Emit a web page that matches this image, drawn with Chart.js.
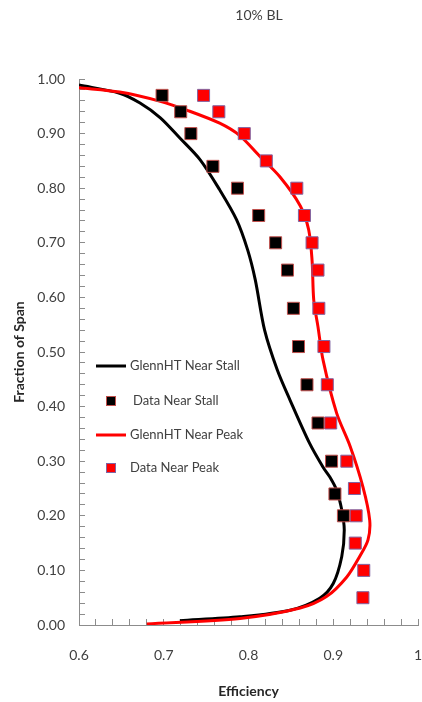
<!DOCTYPE html>
<html>
<head>
<meta charset="utf-8">
<script src="https://cdn.jsdelivr.net/npm/chart.js@4/dist/chart.umd.min.js"></script>
<style>
html,body{margin:0;padding:0;background:#fff;}
canvas{display:block;}
</style>
</head>
<body>
<canvas id="c" width="422" height="702"></canvas>
<script>
// ---- data ----
const chartTitle = "10% BL";
const xTitle = "Efficiency";
const yTitle = "Fraction of Span";
const seriesNames = ["GlennHT Near Stall", "Data Near Stall", "GlennHT Near Peak", "Data Near Peak"];

const glennStallEff  = [0.600,0.648,0.672,0.696,0.719,0.743,0.766,0.786,0.799,0.808,0.819,0.834,0.849,0.872,0.888,0.896,0.904,0.910,0.913,0.910,0.900,0.884,0.849,0.790,0.719];
const glennStallSpan = [0.989,0.974,0.956,0.929,0.892,0.852,0.797,0.742,0.687,0.632,0.540,0.467,0.412,0.333,0.289,0.271,0.247,0.211,0.174,0.125,0.076,0.049,0.027,0.015,0.008];

const dataStallEff  = [0.698,0.720,0.732,0.758,0.787,0.812,0.832,0.846,0.853,0.859,0.869,0.882,0.898,0.902,0.912];
const dataStallSpan = [0.97,0.94,0.90,0.84,0.80,0.75,0.70,0.65,0.58,0.51,0.44,0.37,0.30,0.24,0.20];

const glennPeakEff  = [0.600,0.648,0.696,0.727,0.766,0.790,0.813,0.837,0.861,0.871,0.875,0.877,0.882,0.888,0.904,0.920,0.935,0.943,0.941,0.931,0.916,0.892,0.861,0.790,0.680];
const glennPeakSpan = [0.984,0.976,0.959,0.943,0.919,0.896,0.859,0.821,0.768,0.724,0.668,0.595,0.546,0.485,0.388,0.327,0.253,0.192,0.156,0.125,0.088,0.052,0.031,0.012,0.002];

const dataPeakEff  = [0.747,0.765,0.795,0.821,0.857,0.866,0.875,0.882,0.883,0.889,0.893,0.897,0.916,0.925,0.927,0.926,0.936,0.935];
const dataPeakSpan = [0.97,0.94,0.90,0.85,0.80,0.75,0.70,0.65,0.58,0.51,0.44,0.37,0.30,0.25,0.20,0.15,0.10,0.05];

const xMin = 0.6, xMax = 1.0, yMin = 0, yMax = 1.0, minorStep = 0.02;

function pts(xs, ys){ return xs.map((x,i)=>({x:x, y:ys[i]})); }

Chart.defaults.font.family = "Lato, 'Open Sans', sans-serif";

const legendPlugin = {
  id: 'customLegend',
  afterDatasetsDraw(chart){
    const ctx = chart.ctx;
    const rows = [366, 401, 435, 468];
    ctx.save();
    ctx.font = "13px Lato, 'Open Sans', sans-serif";
    ctx.textBaseline = 'middle';
    ctx.textAlign = 'left';
    chart.data.datasets.forEach((ds, i) => {
      const y = rows[i];
      if (ds.showLine) {
        ctx.strokeStyle = ds.borderColor;
        ctx.lineWidth = 3;
        ctx.beginPath(); ctx.moveTo(96, y); ctx.lineTo(126, y); ctx.stroke();
        ctx.fillStyle = '#404040';
        ctx.fillText(ds.label, 130, y);
      } else {
        ctx.fillStyle = ds.pointBackgroundColor;
        ctx.fillRect(106, y-5, 10, 10);
        ctx.strokeStyle = ds.pointBorderColor;
        ctx.lineWidth = 1;
        ctx.strokeRect(106.5, y-4.5, 9, 9);
        ctx.fillStyle = '#404040';
        ctx.fillText(ds.label, i === 1 ? 133 : 130, y);
      }
    });
    ctx.restore();
  }
};

const titlePlugin = {
  id: 'topTitle',
  afterDraw(chart){
    const ctx = chart.ctx;
    ctx.save();
    ctx.font = "14px Lato, 'Open Sans', sans-serif";
    ctx.fillStyle = '#404040';
    ctx.textAlign = 'center';
    ctx.textBaseline = 'middle';
    ctx.fillText(chartTitle, 259, 15);
    ctx.restore();
  }
};

new Chart(document.getElementById('c'), {
  type: 'scatter',
  data: {
    datasets: [
      { label: seriesNames[0], data: pts(glennStallEff, glennStallSpan), showLine: true, borderColor: '#000000', backgroundColor: '#000000', borderWidth: 3, pointRadius: 0, tension: 0.3, order: 2 },
      { label: seriesNames[1], data: pts(dataStallEff, dataStallSpan), showLine: false, pointStyle: 'rect', pointRadius: 8.5, pointHoverRadius: 8.5, pointBackgroundColor: '#000000', pointBorderColor: '#c0504d', pointBorderWidth: 1, order: 0 },
      { label: seriesNames[2], data: pts(glennPeakEff, glennPeakSpan), showLine: true, borderColor: '#ff0000', backgroundColor: '#ff0000', borderWidth: 3, pointRadius: 0, tension: 0.3, order: 1 },
      { label: seriesNames[3], data: pts(dataPeakEff, dataPeakSpan), showLine: false, pointStyle: 'rect', pointRadius: 8.5, pointHoverRadius: 8.5, pointBackgroundColor: '#ff0000', pointBorderColor: '#8064a2', pointBorderWidth: 1, order: 0 }
    ]
  },
  options: {
    responsive: false,
    animation: false,
    devicePixelRatio: 1,
    layout: { autoPadding: false, padding: { top: 79, right: 4, left: 0, bottom: 0 } },
    plugins: { legend: { display: false }, title: { display: false }, tooltip: { enabled: false } },
    scales: {
      x: {
        type: 'linear', min: xMin, max: xMax,
        afterFit(s){ s.height = 77; s.paddingRight = 0; s.paddingLeft = 0; },
        border: { display: true, color: '#8c8c8c', width: 1 },
        grid: { display: true, drawOnChartArea: false, drawTicks: true, tickLength: -6, color: '#8c8c8c', lineWidth: 1 },
        ticks: {
          stepSize: minorStep, maxTicksLimit: 100, autoSkip: false, maxRotation: 0, padding: 28,
          color: '#404040', font: { size: 14 },
          callback: (v) => (Math.round(v*100) % 10 === 0) ? String(Number(v.toFixed(1))) : ''
        },
        title: { display: true, text: xTitle, color: '#262626', font: { size: 14, weight: 'bold' }, padding: { top: 0, bottom: 2 } }
      },
      y: {
        type: 'linear', min: yMin, max: yMax,
        afterFit(s){ s.width = 79; s.paddingTop = 0; s.paddingBottom = 0; },
        border: { display: true, color: '#8c8c8c', width: 1 },
        grid: { display: true, drawOnChartArea: false, drawTicks: true, tickLength: -6, color: '#8c8c8c', lineWidth: 1 },
        ticks: {
          stepSize: minorStep, maxTicksLimit: 100, autoSkip: false, padding: 20,
          color: '#404040', font: { size: 14 },
          callback: (v) => (Math.round(v*100) % 10 === 0) ? v.toFixed(2) : ''
        },
        title: { display: true, text: yTitle, color: '#262626', font: { size: 14, weight: 'bold' }, padding: { top: 11, bottom: 0 } }
      }
    }
  },
  plugins: [legendPlugin, titlePlugin]
});
</script>
</body>
</html>
